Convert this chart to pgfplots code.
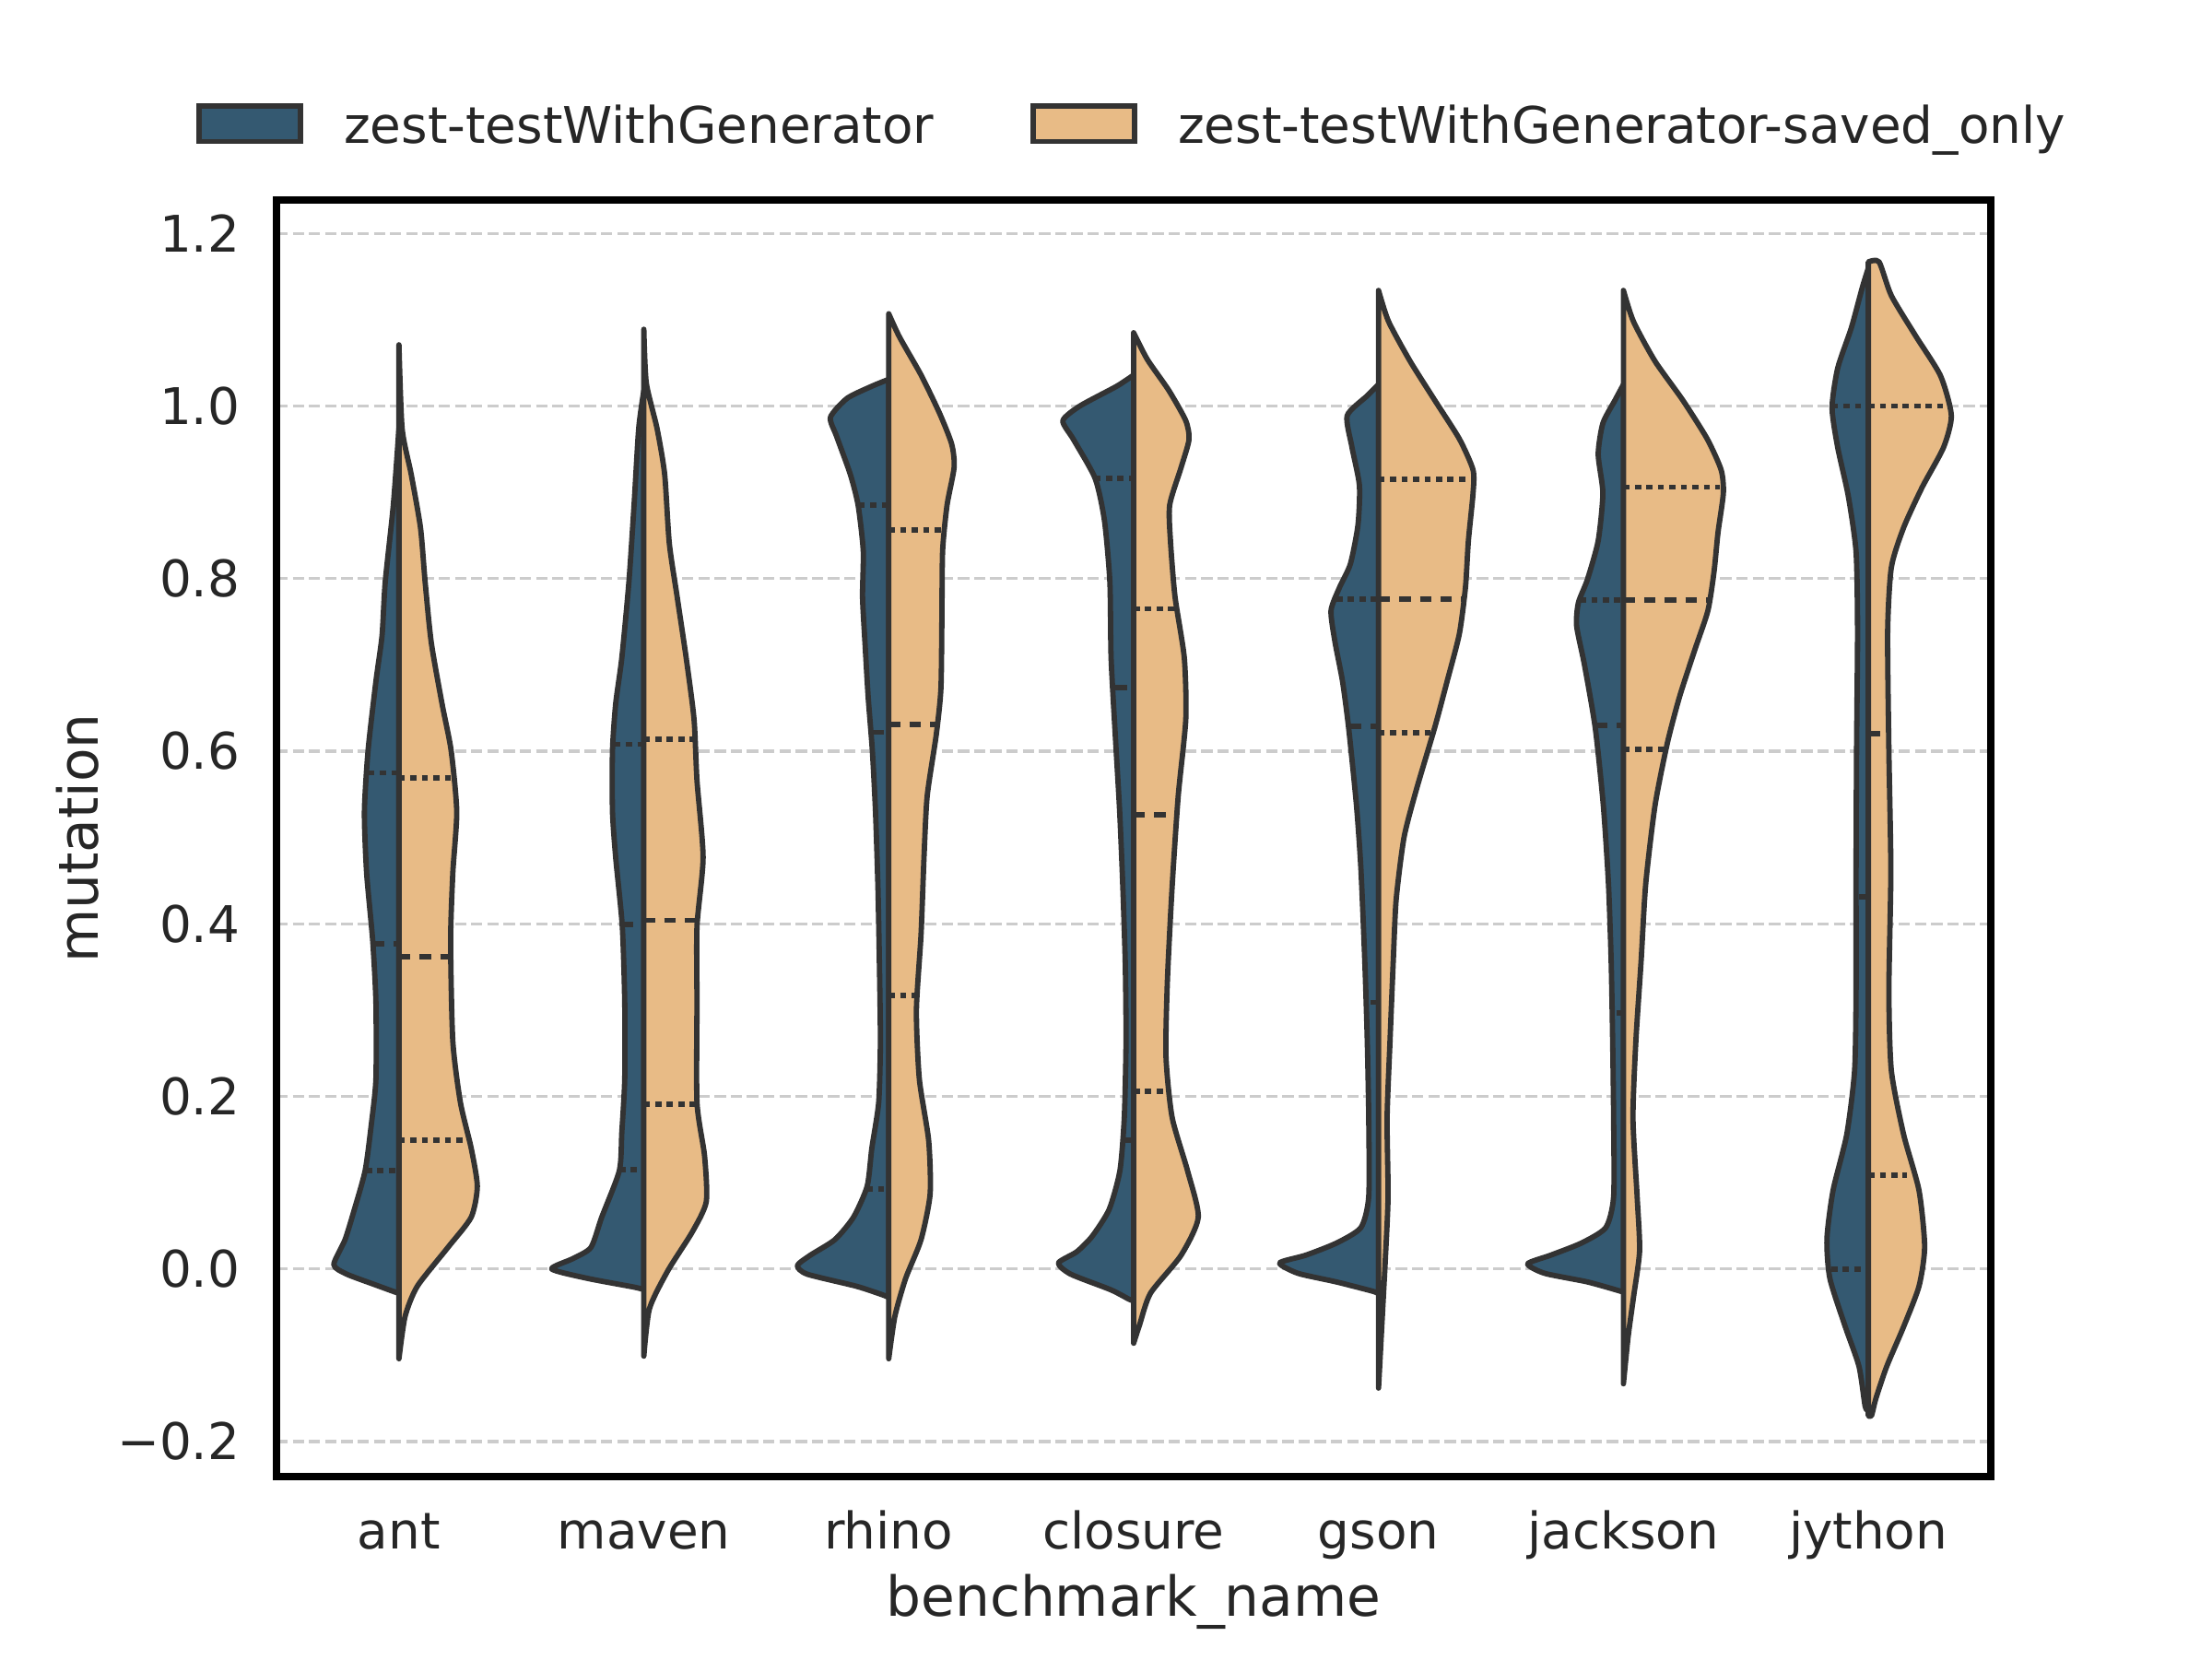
\documentclass[border=0pt]{standalone}
\usepackage{fontspec}
\setmainfont{DejaVu Sans}
\usepackage{pgfplots}
\usepackage{pgfplotstable}
\pgfplotsset{compat=1.18}
\definecolor{bluec}{RGB}{52,89,113}
\definecolor{orangec}{RGB}{232,187,134}
\definecolor{edgec}{RGB}{51,51,51}
\definecolor{textc}{RGB}{38,38,38}
\definecolor{gridc}{RGB}{204,204,204}

% each half violin: y value, half width (in category units)
\pgfplotstableread{
y w
0.974 0
0.885 0.023
0.796 0.056
0.734 0.069
0.681 0.094
0.601 0.126
0.530 0.141
0.459 0.132
0.380 0.107
0.309 0.094
0.220 0.094
0.167 0.113
0.114 0.138
0.069 0.182
0.034 0.220
0.005 0.266
-0.006 0.213
-0.018 0.100
-0.027 0.013
-0.028 0
}\antL
\pgfplotstableread{
y w
1.071 0
0.974 0.013
0.921 0.050
0.859 0.088
0.796 0.107
0.726 0.132
0.655 0.176
0.601 0.213
0.530 0.236
0.459 0.220
0.380 0.211
0.264 0.220
0.193 0.251
0.140 0.295
0.096 0.320
0.060 0.295
0.025 0.200
-0.020 0.075
-0.055 0.025
-0.104 0
}\antR
\pgfplotstableread{
y w
1.018 0
0.974 0.021
0.885 0.040
0.796 0.061
0.708 0.090
0.655 0.115
0.601 0.128
0.530 0.128
0.477 0.115
0.397 0.088
0.309 0.078
0.220 0.078
0.158 0.090
0.114 0.100
0.060 0.172
0.025 0.216
0.012 0.290
0.000 0.376
-0.011 0.228
-0.021 0.040
-0.024 0
}\mavenL
\pgfplotstableread{
y w
1.089 0
1.027 0.010
0.974 0.054
0.921 0.085
0.841 0.104
0.779 0.136
0.708 0.173
0.637 0.205
0.566 0.217
0.477 0.242
0.397 0.217
0.309 0.217
0.193 0.217
0.131 0.248
0.078 0.255
0.043 0.198
-0.002 0.098
-0.046 0.023
-0.101 0
}\mavenR
\pgfplotstableread{
y w
1.031 0
1.023 0.069
1.009 0.170
0.987 0.238
0.965 0.213
0.921 0.157
0.885 0.125
0.832 0.104
0.779 0.107
0.726 0.097
0.663 0.084
0.601 0.067
0.530 0.054
0.442 0.044
0.353 0.038
0.264 0.034
0.193 0.041
0.140 0.069
0.096 0.088
0.060 0.144
0.034 0.220
0.016 0.320
0.004 0.373
-0.006 0.333
-0.020 0.132
-0.030 0.025
-0.033 0
}\rhinoL
\pgfplotstableread{
y w
1.107 0
1.080 0.044
1.036 0.132
0.992 0.207
0.956 0.257
0.929 0.267
0.885 0.238
0.832 0.220
0.752 0.217
0.672 0.213
0.619 0.194
0.548 0.157
0.477 0.144
0.388 0.132
0.300 0.113
0.220 0.125
0.149 0.163
0.087 0.169
0.034 0.132
-0.011 0.069
-0.055 0.025
-0.104 0
}\rhinoR
\pgfplotstableread{
y w
1.036 0
1.023 0.069
1.000 0.220
0.983 0.289
0.961 0.245
0.916 0.157
0.867 0.119
0.796 0.097
0.708 0.092
0.619 0.075
0.530 0.057
0.442 0.044
0.353 0.034
0.264 0.031
0.176 0.038
0.114 0.056
0.069 0.100
0.038 0.169
0.020 0.232
0.007 0.307
-0.006 0.257
-0.024 0.094
-0.035 0.019
-0.037 0
}\closureL
\pgfplotstableread{
y w
1.085 0
1.054 0.056
1.018 0.144
0.983 0.213
0.961 0.226
0.929 0.194
0.885 0.147
0.841 0.151
0.779 0.169
0.708 0.207
0.637 0.213
0.548 0.182
0.442 0.157
0.335 0.138
0.247 0.132
0.176 0.157
0.114 0.220
0.060 0.264
0.016 0.194
-0.028 0.069
-0.064 0.025
-0.086 0
}\closureR
\pgfplotstableread{
y w
1.025 0
1.012 0.046
0.989 0.128
0.953 0.109
0.908 0.078
0.862 0.084
0.817 0.115
0.790 0.159
0.763 0.194
0.727 0.178
0.681 0.147
0.627 0.122
0.537 0.090
0.464 0.072
0.356 0.056
0.265 0.046
0.175 0.040
0.084 0.040
0.048 0.072
0.030 0.172
0.016 0.297
0.007 0.404
-0.005 0.329
-0.015 0.172
-0.026 0.021
-0.029 0
}\gsonL
\pgfplotstableread{
y w
1.134 0
1.098 0.041
1.052 0.129
1.007 0.229
0.962 0.330
0.926 0.386
0.899 0.386
0.844 0.367
0.790 0.355
0.736 0.330
0.681 0.280
0.627 0.229
0.555 0.154
0.500 0.104
0.428 0.072
0.356 0.060
0.265 0.047
0.175 0.035
0.084 0.039
0.012 0.028
-0.052 0.016
-0.138 0
}\gsonR
\pgfplotstableread{
y w
1.025 0
1.007 0.034
0.980 0.084
0.944 0.103
0.899 0.084
0.844 0.103
0.799 0.147
0.772 0.184
0.745 0.191
0.700 0.159
0.627 0.115
0.537 0.082
0.446 0.061
0.356 0.050
0.265 0.044
0.175 0.040
0.084 0.040
0.048 0.072
0.030 0.172
0.016 0.297
0.006 0.391
-0.005 0.322
-0.015 0.147
-0.026 0.009
-0.028 0
}\jacksonL
\pgfplotstableread{
y w
1.134 0
1.098 0.041
1.052 0.129
1.007 0.242
0.962 0.342
0.926 0.399
0.899 0.408
0.853 0.386
0.808 0.370
0.763 0.345
0.718 0.292
0.663 0.229
0.609 0.179
0.537 0.129
0.446 0.091
0.356 0.072
0.265 0.051
0.175 0.039
0.084 0.056
0.021 0.066
-0.033 0.041
-0.079 0.019
-0.133 0
}\jacksonR
\pgfplotstableread{
y w
1.160 0
1.137 0.025
1.091 0.069
1.044 0.125
0.998 0.148
0.952 0.125
0.896 0.082
0.831 0.050
0.739 0.044
0.600 0.048
0.461 0.050
0.322 0.050
0.230 0.056
0.156 0.088
0.091 0.144
0.035 0.169
-0.011 0.157
-0.067 0.094
-0.113 0.038
-0.159 0.013
-0.164 0
}\jythonL
\pgfplotstableread{
y w
1.167 0
1.167 0.044
1.128 0.094
1.081 0.194
1.035 0.295
0.989 0.339
0.952 0.307
0.906 0.220
0.859 0.144
0.813 0.094
0.739 0.079
0.600 0.084
0.461 0.092
0.322 0.084
0.230 0.094
0.156 0.144
0.091 0.207
0.026 0.230
-0.020 0.207
-0.067 0.144
-0.113 0.075
-0.150 0.031
-0.170 0.013
-0.170 0
}\jythonR

\pgfplotsset{
  vL/.style={fill=bluec, draw=edgec, line width=1.4pt, line join=round, smooth, tension=0.4, forget plot},
  vR/.style={fill=orangec, draw=edgec, line width=1.4pt, line join=round, smooth, tension=0.4, forget plot},
  quart/.style={draw=edgec, line width=1.4pt, dash pattern=on 1.6pt off 1.4pt, forget plot},
  med/.style={draw=edgec, line width=1.4pt, dash pattern=on 3.0pt off 2.4pt, forget plot},
}
\newcommand{\halfL}[2]{\addplot[vL] table[x expr=#1-\thisrow{w}, y=y]{#2} -- cycle;}
\newcommand{\halfR}[2]{\addplot[vR] table[x expr=#1+\thisrow{w}, y=y]{#2} -- cycle;}

\begin{document}
\begin{tikzpicture}
\useasboundingbox (-72.27pt,-47.70pt) rectangle (505.89pt,385.93pt);
\begin{axis}[
  at={(0pt,0pt)}, anchor=south west,
  scale only axis, width=448.07pt, height=333.65pt,
  xmin=-0.5, xmax=6.5, ymin=-0.2406, ymax=1.2388,
  axis line style={line width=1.9pt, black},
  xtick={0,1,2,3,4,5,6},
  xticklabels={ant,maven,rhino,closure,gson,jackson,jython},
  ytick={-0.2,0,0.2,0.4,0.6,0.8,1.0,1.2},
  yticklabels={−0.2,0.0,0.2,0.4,0.6,0.8,1.0,1.2},
  major tick length=0pt,
  ymajorgrids=true,
  grid style={gridc, line width=0.8pt, dash pattern=on 2.96pt off 1.28pt},
  ticklabel style={font=\fontsize{13.2}{15.84}\selectfont, text=textc, inner sep=0pt},
  xticklabel style={anchor=base, yshift=-18.8pt},
  yticklabel style={anchor=east, xshift=-9.4pt},
  xlabel={benchmark\_name}, ylabel={mutation},
  label style={font=\fontsize{14.4}{17.28}\selectfont, text=textc, inner sep=0pt},
  xlabel style={at={(axis description cs:0.5,-0.1091)}, anchor=base},
  ylabel style={at={(axis description cs:-0.1038,0.5)}, anchor=base},
  legend columns=2,
  legend cell align=left,
  legend style={draw=none, fill=none, inner sep=0pt, outer sep=0pt,
    at={(axis description cs:-0.0466,1.0577)}, anchor=west,
    font=\fontsize{13.2}{15.84}\selectfont, text=textc,
    column sep=0pt, row sep=0pt,
    nodes={inner sep=0pt, anchor=base west},
    /tikz/every even column/.append style={column sep=25.3pt}},
  legend image code/.code={
    \path[draw=none, fill=none] (0pt,0pt) rectangle (37.8pt,0.1pt);
    \draw[#1] (0pt,0.5pt) rectangle (26.4pt,9.7pt);
  },
]
\halfL{0}{\antL}\halfR{0}{\antR}
\halfL{1}{\mavenL}\halfR{1}{\mavenR}
\halfL{2}{\rhinoL}\halfR{2}{\rhinoR}
\halfL{3}{\closureL}\halfR{3}{\closureR}
\halfL{4}{\gsonL}\halfR{4}{\gsonR}
\halfL{5}{\jacksonL}\halfR{5}{\jacksonR}
\halfL{6}{\jythonL}\halfR{6}{\jythonR}

% quartile lines: ant
\addplot[quart] coordinates {(-0.125,0.575) (0,0.575)};
\addplot[med]   coordinates {(-0.105,0.377) (0,0.377)};
\addplot[quart] coordinates {(-0.135,0.114) (0,0.114)};
\addplot[quart] coordinates {(0,0.569) (0.222,0.569)};
\addplot[med]   coordinates {(0,0.362) (0.212,0.362)};
\addplot[quart] coordinates {(0,0.149) (0.268,0.149)};
% maven
\addplot[quart] coordinates {(0.880,0.608) (1,0.608)};
\addplot[med]   coordinates {(0.910,0.399) (1,0.399)};
\addplot[quart] coordinates {(0.900,0.115) (1,0.115)};
\addplot[quart] coordinates {(1,0.614) (1.200,0.614)};
\addplot[med]   coordinates {(1,0.404) (1.217,0.404)};
\addplot[quart] coordinates {(1,0.191) (1.217,0.191)};
% rhino
\addplot[quart] coordinates {(1.878,0.885) (2,0.885)};
\addplot[med]   coordinates {(1.935,0.622) (2,0.622)};
\addplot[quart] coordinates {(1.910,0.093) (2,0.093)};
\addplot[quart] coordinates {(2,0.856) (2.218,0.856)};
\addplot[med]   coordinates {(2,0.631) (2.198,0.631)};
\addplot[quart] coordinates {(2,0.317) (2.108,0.317)};
% closure
\addplot[quart] coordinates {(2.840,0.916) (3,0.916)};
\addplot[med]   coordinates {(2.925,0.674) (3,0.674)};
\addplot[quart] coordinates {(2.962,0.149) (3,0.149)};
\addplot[quart] coordinates {(3,0.765) (3.165,0.765)};
\addplot[med]   coordinates {(3,0.526) (3.180,0.526)};
\addplot[quart] coordinates {(3,0.206) (3.127,0.206)};
% gson
\addplot[quart] coordinates {(3.828,0.776) (4,0.776)};
\addplot[med]   coordinates {(3.882,0.629) (4,0.629)};
\addplot[quart] coordinates {(3.968,0.309) (4,0.309)};
\addplot[quart] coordinates {(4,0.915) (4.362,0.915)};
\addplot[med]   coordinates {(4,0.776) (4.340,0.776)};
\addplot[quart] coordinates {(4,0.621) (4.214,0.621)};
% jackson
\addplot[quart] coordinates {(4.822,0.775) (5,0.775)};
\addplot[med]   coordinates {(4.888,0.630) (5,0.630)};
\addplot[quart] coordinates {(4.972,0.297) (5,0.297)};
\addplot[quart] coordinates {(5,0.906) (5.392,0.906)};
\addplot[med]   coordinates {(5,0.775) (5.352,0.775)};
\addplot[quart] coordinates {(5,0.602) (5.172,0.602)};
% jython
\addplot[quart] coordinates {(5.852,1.000) (6,1.000)};
\addplot[med]   coordinates {(5.962,0.431) (6,0.431)};
\addplot[quart] coordinates {(5.849,0.000) (6,0.000)};
\addplot[quart] coordinates {(6,1.000) (6.313,1.000)};
\addplot[med]   coordinates {(6,0.620) (6.050,0.620)};
\addplot[quart] coordinates {(6,0.109) (6.156,0.109)};

\addlegendimage{fill=bluec, draw=edgec, line width=1.4pt}
\addlegendentry{zest-testWithGenerator}
\addlegendimage{fill=orangec, draw=edgec, line width=1.4pt}
\addlegendentry{zest-testWithGenerator-saved\_only}
\end{axis}
\end{tikzpicture}
\end{document}
